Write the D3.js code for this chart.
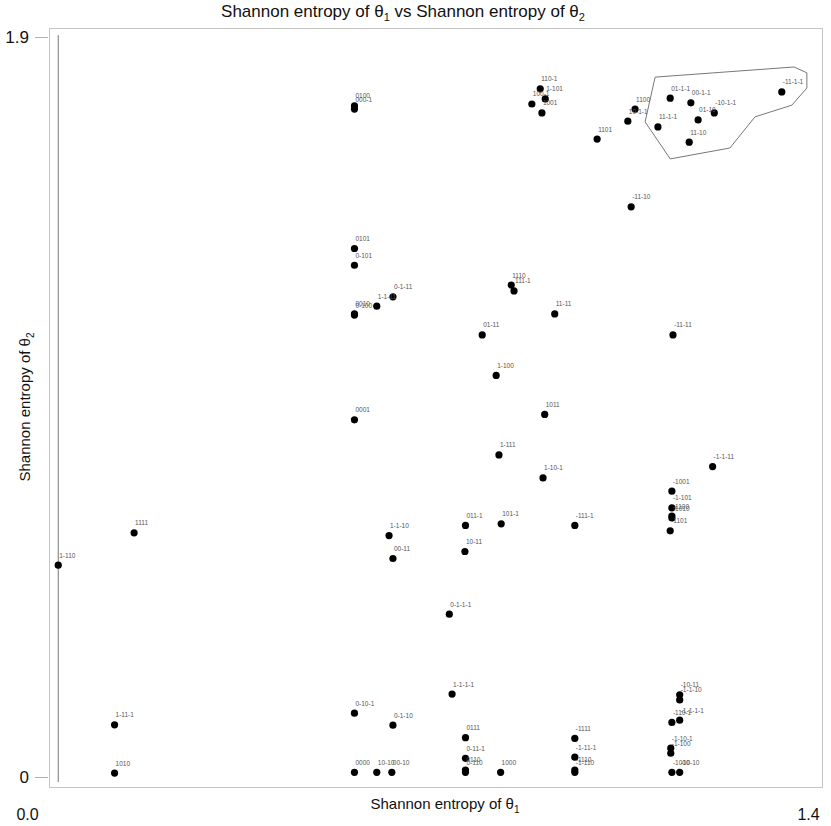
<!DOCTYPE html>
<html>
<head>
<meta charset="utf-8">
<script src="https://cdn.jsdelivr.net/npm/d3@7"></script>
<style>
  body { margin: 0; background: #fff; }
  text { font-family: "Liberation Sans", Arial, sans-serif; }
</style>
</head>
<body>
<script>
// width and height of the page
var w = 831;
var h = 826;

// point labels (state vectors) and their entropies
var labels = ["1-110", "1111", "1-11-1", "1010",
  "0100", "000-1", "0101", "0-101", "0-1-11", "1-1-11", "0010", "0-100", "0001",
  "1-1-10", "00-11", "0-10-1", "0-1-10", "0000", "10-10", "00-10",
  "110-1", "1-101", "100-1", "1001", "1101", "1100", "10-1-1",
  "01-1-1", "00-1-1", "-10-1-1", "01-10", "11-1-1", "11-10", "-11-1-1", "-11-10",
  "1110", "111-1", "11-11", "01-11", "-11-11", "1-100", "1011", "1-111", "1-10-1",
  "-1-1-11", "-1001", "-1-101", "-1100", "-1010", "-1101",
  "011-1", "101-1", "-111-1", "10-11", "0-1-1-1", "1-1-1-1",
  "-10-11", "-1-1-10", "-110-1", "-1-1-1-1", "-1-10-1", "-1-100", "-1000", "-10-10",
  "0111", "0-11-1", "0110", "0-110", "1000", "-1111", "-1-11-1", "-1110", "-1-110"];

var entropy1 = [0.056, 0.192, 0.157, 0.157,
  0.587, 0.587, 0.587, 0.587, 0.656, 0.627, 0.587, 0.587, 0.587,
  0.649, 0.656, 0.587, 0.656, 0.587, 0.627, 0.654,
  0.920, 0.929, 0.905, 0.923, 1.022, 1.090, 1.077,
  1.153, 1.190, 1.232, 1.203, 1.131, 1.187, 1.353, 1.083,
  0.868, 0.873, 0.946, 0.816, 1.158, 0.841, 0.928, 0.846, 0.925,
  1.229, 1.156, 1.156, 1.156, 1.156, 1.153,
  0.786, 0.850, 0.982, 0.785, 0.757, 0.762,
  1.170, 1.170, 1.156, 1.170, 1.154, 1.154, 1.156, 1.170,
  0.786, 0.786, 0.786, 0.786, 0.849, 0.982, 0.982, 0.982, 0.982];

var entropy2 = [0.544, 0.627, 0.134, 0.010,
  1.723, 1.715, 1.357, 1.314, 1.233, 1.209, 1.189, 1.186, 0.917,
  0.620, 0.561, 0.164, 0.133, 0.012, 0.012, 0.012,
  1.767, 1.741, 1.728, 1.705, 1.638, 1.715, 1.684,
  1.743, 1.731, 1.705, 1.687, 1.669, 1.630, 1.759, 1.464,
  1.263, 1.248, 1.189, 1.135, 1.135, 1.031, 0.931, 0.827, 0.768,
  0.797, 0.734, 0.691, 0.670, 0.665, 0.632,
  0.646, 0.650, 0.646, 0.579, 0.418, 0.213,
  0.211, 0.198, 0.140, 0.146, 0.074, 0.061, 0.012, 0.012,
  0.101, 0.048, 0.018, 0.012, 0.012, 0.099, 0.051, 0.018, 0.012];

// outline drawn round the top right group, and the line through the zero-entropy group
var hullX = [1.126, 1.375, 1.398, 1.398, 1.371, 1.305, 1.260, 1.153, 1.108];
var hullY = [1.797, 1.823, 1.808, 1.769, 1.725, 1.695, 1.615, 1.587, 1.682];
var lineX = [0.056, 0.056];
var lineY = [1.905, -0.013];

// tick labels
var xTicks = [0, 1.4];
var xTickLabels = ["0.0", "1.4"];
var yTicks = [0, 1.9];
var yTickLabels = ["0", "1.9"];

var svg = d3.select("body")
            .append("svg")
            .attr("width", w)
            .attr("height", h);

var x = d3.scaleLinear().domain([0, 1.4]).range([27, 808]);
var y = d3.scaleLinear().domain([0, 1.9]).range([777, 37]);

// plot frame
svg.append("rect")
   .attr("x", 49.5)
   .attr("y", 28.5)
   .attr("width", 773)
   .attr("height", 759)
   .attr("fill", "none")
   .attr("stroke", "#c4c4c4")
   .attr("stroke-width", 1);

// title
var title = svg.append("text")
   .attr("x", 403)
   .attr("y", 17)
   .attr("text-anchor", "middle")
   .attr("font-size", 17)
   .attr("fill", "#111");
title.append("tspan").text("Shannon entropy of θ");
title.append("tspan").attr("font-size", 11).attr("dy", 4).text("1");
title.append("tspan").attr("dy", -4).text(" vs Shannon entropy of θ");
title.append("tspan").attr("font-size", 11).attr("dy", 4).text("2");

// x axis title
var xt = svg.append("text")
   .attr("x", 445)
   .attr("y", 809)
   .attr("text-anchor", "middle")
   .attr("font-size", 15)
   .attr("fill", "#111");
xt.append("tspan").text("Shannon entropy of θ");
xt.append("tspan").attr("font-size", 10).attr("dy", 4).text("1");

// y axis title
var yt = svg.append("text")
   .attr("transform", "translate(30,407) rotate(-90)")
   .attr("text-anchor", "middle")
   .attr("font-size", 15)
   .attr("fill", "#111");
yt.append("tspan").text("Shannon entropy of θ");
yt.append("tspan").attr("font-size", 10).attr("dy", 4).text("2");

// y ticks
var yAxis = d3.axisLeft(y)
              .tickValues(yTicks)
              .tickFormat(function(d, i) { return yTickLabels[i]; })
              .tickSize(13)
              .tickPadding(6);
var gy = svg.append("g")
            .attr("transform", "translate(48,0)")
            .call(yAxis);
gy.select(".domain").remove();
gy.selectAll(".tick line").attr("stroke", "#b0b0b0");
gy.selectAll(".tick text")
  .attr("font-size", 17)
  .attr("font-family", "Liberation Sans, Arial, sans-serif")
  .attr("fill", "#111");

// x tick labels
var xAxis = d3.axisBottom(x)
              .tickValues(xTicks)
              .tickFormat(function(d, i) { return xTickLabels[i]; })
              .tickSize(0)
              .tickPadding(0);
var gx = svg.append("g")
            .attr("transform", "translate(0,809)")
            .call(xAxis);
gx.select(".domain").remove();
gx.selectAll(".tick text")
  .attr("font-size", 16)
  .attr("font-family", "Liberation Sans, Arial, sans-serif")
  .attr("fill", "#111");

// outline and line
var line = d3.line()
             .x(function(d) { return x(d[0]); })
             .y(function(d) { return y(d[1]); });

svg.append("path")
   .attr("d", line(d3.zip(hullX, hullY)) + "Z")
   .attr("fill", "none")
   .attr("stroke", "#777")
   .attr("stroke-width", 1);

svg.append("path")
   .attr("d", line(d3.zip(lineX, lineY)))
   .attr("fill", "none")
   .attr("stroke", "#777")
   .attr("stroke-width", 1);

// points
var pts = d3.range(labels.length);

svg.selectAll("circle.pt")
   .data(pts)
   .enter()
   .append("circle")
   .attr("class", "pt")
   .attr("cx", function(i) { return x(entropy1[i]); })
   .attr("cy", function(i) { return y(entropy2[i]); })
   .attr("r", 3.6)
   .attr("fill", "#000");

// point labels
svg.selectAll("text.lab")
   .data(pts)
   .enter()
   .append("text")
   .attr("class", "lab")
   .attr("x", function(i) { return x(entropy1[i]) + 1; })
   .attr("y", function(i) { return y(entropy2[i]) - 7.5; })
   .attr("font-size", 6.5)
   .attr("fill", "#555")
   .text(function(i) { return labels[i]; });
</script>
</body>
</html>
